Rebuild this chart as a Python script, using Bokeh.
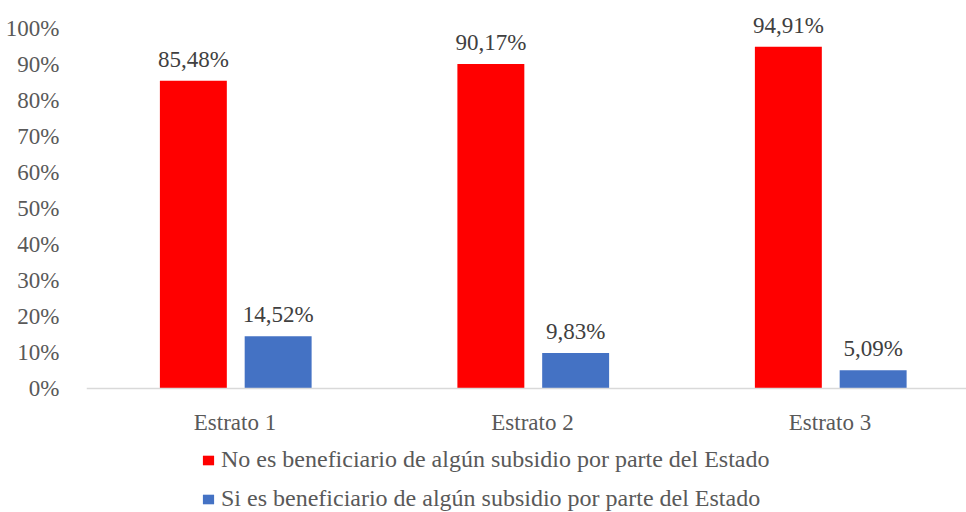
from bokeh.plotting import figure
from bokeh.models import (ColumnDataSource, Range1d, FixedTicker, Legend, LegendItem,
                          NumeralTickFormatter, LabelSet, Span)
from bokeh.core.properties import value
from bokeh.embed import file_html
from bokeh.resources import INLINE

categories = ["Estrato 1", "Estrato 2", "Estrato 3"]
no_benef = [85.48, 90.17, 94.91]
si_benef = [14.52, 9.83, 5.09]
series_names = ["No es beneficiario de algún subsidio por parte del Estado",
                "Si es beneficiario de algún subsidio por parte del Estado"]
colors = ["#FF0000", "#4472C4"]
y_ticks = [0, 0.1, 0.2, 0.3, 0.4, 0.5, 0.6, 0.7, 0.8, 0.9, 1.0]

FONT = "Liberation Serif"
xs = list(range(len(categories)))

p = figure(width=966, height=512, output_backend="svg", toolbar_location=None,
           x_range=Range1d(-0.4992, 2.4588), y_range=Range1d(-0.3444, 1.05),
           x_axis_location=None,
           min_border_left=86, min_border_right=0, min_border_top=10, min_border_bottom=0)
p.outline_line_color = None
p.grid.grid_line_color = None
p.background_fill_color = "white"

# baseline (category axis line)
p.add_layout(Span(location=0, dimension="width", line_color="#D9D9D9", line_width=1.5))

renderers = []
offsets = [-0.14, 0.145]
for vals, off, col in zip([no_benef, si_benef], offsets, colors):
    src = ColumnDataSource(dict(
        x=[x + off for x in xs],
        top=[v / 100 for v in vals],
        label=[f"{v:.2f}%".replace(".", ",") for v in vals],
    ))
    r = p.vbar(x="x", top="top", width=0.225, bottom=0, source=src,
               fill_color=col, line_color=None)
    renderers.append(r)
    p.add_layout(LabelSet(x="x", y="top", text="label", source=src,
                          text_align="center", text_baseline="alphabetic", y_offset=14,
                          text_font=FONT, text_font_size="23px", text_color="#404040"))

# category labels
cat_src = ColumnDataSource(dict(x=xs, y=[0] * len(xs), text=categories))
p.text(x="x", y="y", text="text", source=cat_src, text_align="center",
       text_baseline="alphabetic", y_offset=34, text_font=value(FONT),
       text_font_size="23px", text_color="#595959")

# y axis
ya = p.yaxis[0]
ya.ticker = FixedTicker(ticks=y_ticks)
ya.formatter = NumeralTickFormatter(format="0%")
ya.axis_line_color = None
ya.major_tick_line_color = None
ya.minor_tick_line_color = None
ya.major_label_standoff = 21
ya.major_label_text_font = FONT
ya.major_label_text_font_size = "23px"
ya.major_label_text_color = "#595959"

legend = Legend(items=[LegendItem(label=n, renderers=[r]) for n, r in zip(series_names, renderers)],
                orientation="vertical", location=(115, 0),
                label_text_font=FONT, label_text_font_size="24px", label_text_color="#595959",
                glyph_width=14, glyph_height=12, label_standoff=6,
                label_height=24, spacing=12, padding=0, margin=0,
                border_line_color=None, background_fill_alpha=0)
p.add_layout(legend, "center")

open("out.html", "w").write(file_html(p, INLINE))
